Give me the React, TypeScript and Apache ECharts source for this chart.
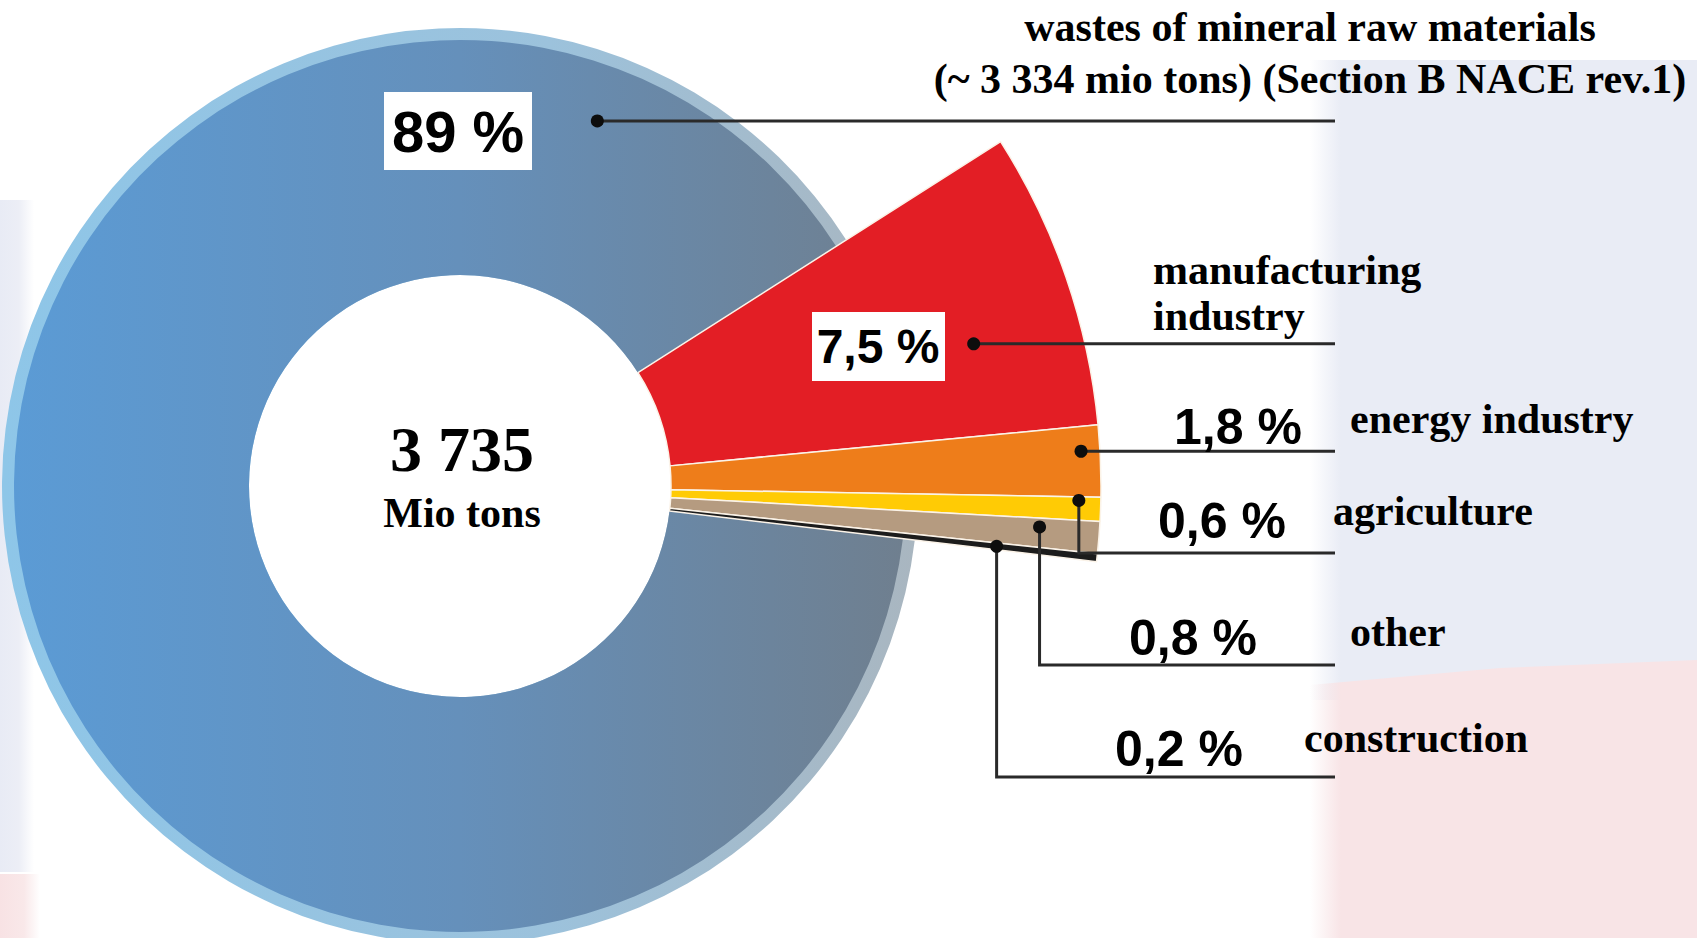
import React, { useEffect, useRef } from 'react';
import * as echarts from 'echarts';

// ---------- data ----------
const CATEGORIES = [
  'manufacturing industry',
  'energy industry',
  'agriculture',
  'other',
  'construction',
  'wastes of mineral raw materials',
];
const VALUES = [7.5, 1.8, 0.6, 0.8, 0.2, 89];
const PERCENT_LABELS = ['7,5 %', '1,8 %', '0,6 %', '0,8 %', '0,2 %', '89 %'];
const TITLE_LINES = ['wastes of mineral raw materials', '(~ 3 334 mio tons) (Section B NACE rev.1)'];
const MANUF_LINES = ['manufacturing', 'industry'];
const TOTAL_LABEL = '3 735';
const TOTAL_UNIT = 'Mio tons';

// ---------- style / layout ----------
const SLICE_COLORS = ['#e31e25', '#ee7d1a', '#ffcb05', '#b59b80', '#1c1c1c'];
const CX = 460;
const CY = 486;
const R_IN = 211;
const R_BLUE = 446;
const R_RIM = 458;
const R_SMALL = 641;
const START = 32.5;
const ANCHOR_FRAC = [0.63, 0.35, 0.15, 0.3, 0.5, 0.885];
const ANCHOR_R = [533, 622, 619, 581, 540, 390];
const ELBOW_Y: (number | null)[] = [null, null, 553, 665, 777, null];
const LINE_END_X = 1335;

const SERIF = '"Liberation Serif", "Times New Roman", serif';
const SANS = '"Liberation Sans", Arial, sans-serif';

function polar(angleDeg: number, r: number): [number, number] {
  const a = (angleDeg * Math.PI) / 180;
  return [CX + r * Math.cos(a), CY - r * Math.sin(a)];
}

function serifText(text: string, x: number, baseline: number, align: string, size = 42) {
  return {
    type: 'text',
    z: 100,
    x,
    y: baseline - 0.34 * size,
    style: {
      text,
      fill: '#000',
      fontFamily: SERIF,
      fontWeight: 'bold',
      fontSize: size,
      align,
      verticalAlign: 'middle',
      textAlign: align,
      textVerticalAlign: 'middle',
    },
  };
}

function sansText(text: string, x: number, y: number, align: string, size: number) {
  return {
    type: 'text',
    z: 100,
    x,
    y,
    style: {
      text,
      fill: '#000',
      fontFamily: SANS,
      fontWeight: 'bold',
      fontSize: size,
      align,
      verticalAlign: 'middle',
      textAlign: align,
      textVerticalAlign: 'middle',
    },
  };
}

export default function App() {
  const ref = useRef<HTMLDivElement>(null);

  useEffect(() => {
    if (!ref.current) return;
    const chart = echarts.init(ref.current, null, { renderer: 'svg' });

    const sum = VALUES.reduce((a, b) => a + b, 0);
    let acc = START;
    const spans = VALUES.map((v) => {
      const s = acc;
      const e = acc - (v / sum) * 360;
      acc = e;
      return [s, e];
    });
    const anchors = spans.map(([s, e], i) => polar(s + (e - s) * ANCHOR_FRAC[i], ANCHOR_R[i]));

    const transparent = 'rgba(0,0,0,0)';
    const blueFill = new echarts.graphic.LinearGradient(0, 0, 1, 0, [
      { offset: 0, color: '#5b9bd5' },
      { offset: 0.5, color: '#6590bb' },
      { offset: 1, color: '#6f7f8f' },
    ]);
    const rimFill = new echarts.graphic.LinearGradient(0, 0, 1, 0, [
      { offset: 0, color: '#8ec6e8' },
      { offset: 0.6, color: '#9cc2dc' },
      { offset: 1, color: '#a9b6c0' },
    ]);

    const baseSeries = {
      type: 'pie',
      center: [CX, CY],
      startAngle: START,
      clockwise: true,
      silent: true,
      avoidLabelOverlap: false,
      label: { show: false },
      labelLine: { show: false },
      emphasis: { disabled: true },
    };

    const lines: any[] = [];
    const dots: any[] = [];
    anchors.forEach(([x, y], i) => {
      const ey = ELBOW_Y[i];
      const pts = ey == null ? [[x, y], [LINE_END_X, y]] : [[x, y], [x, ey], [LINE_END_X, ey]];
      lines.push({
        type: 'polyline',
        z: 100,
        shape: { points: pts },
        style: { stroke: '#2a2a2a', lineWidth: 3, fill: null },
      });
      dots.push({
        type: 'circle',
        z: 101,
        shape: { cx: x, cy: y, r: 6.5 },
        style: { fill: '#0d0d0d' },
      });
    });

    const graphics: any[] = [
      // background tints
      {
        type: 'rect',
        z: 0,
        shape: { x: 0, y: 200, width: 34, height: 672 },
        style: {
          fill: new echarts.graphic.LinearGradient(0, 0, 1, 0, [
            { offset: 0, color: '#e8ebf5' },
            { offset: 0.55, color: '#eceef6' },
            { offset: 1, color: 'rgba(236,238,246,0)' },
          ]),
        },
      },
      {
        type: 'rect',
        z: 0,
        shape: { x: 0, y: 874, width: 40, height: 64 },
        style: {
          fill: new echarts.graphic.LinearGradient(0, 0, 1, 0, [
            { offset: 0, color: '#f8e2e4' },
            { offset: 0.6, color: '#f9e8e9' },
            { offset: 1, color: 'rgba(249,232,233,0)' },
          ]),
        },
      },
      {
        type: 'rect',
        z: 0,
        shape: { x: 1310, y: 60, width: 387, height: 640 },
        style: {
          fill: new echarts.graphic.LinearGradient(0, 0, 1, 0, [
            { offset: 0, color: 'rgba(233,236,245,0)' },
            { offset: 0.08, color: '#e9ecf5' },
            { offset: 1, color: '#e9ecf5' },
          ]),
        },
      },
      {
        type: 'polygon',
        z: 0,
        shape: { points: [[1310, 685], [1500, 668], [1697, 660], [1697, 938], [1310, 938]] },
        style: {
          fill: new echarts.graphic.LinearGradient(0, 0, 1, 0, [
            { offset: 0, color: 'rgba(248,228,230,0)' },
            { offset: 0.08, color: '#f8e4e6' },
            { offset: 1, color: '#f8e4e6' },
          ]),
        },
      },
      ...lines,
      ...dots,
      // value boxes
      {
        type: 'rect',
        z: 99,
        shape: { x: 384, y: 92, width: 148, height: 78 },
        style: { fill: '#ffffff' },
      },
      {
        type: 'rect',
        z: 99,
        shape: { x: 812, y: 312, width: 133, height: 69 },
        style: { fill: '#ffffff' },
      },
      sansText(PERCENT_LABELS[5], 458, 131, 'center', 58),
      sansText(PERCENT_LABELS[0], 878, 346, 'center', 48),
      sansText(PERCENT_LABELS[1], 1174, 427, 'left', 50),
      sansText(PERCENT_LABELS[2], 1158, 521, 'left', 50),
      sansText(PERCENT_LABELS[3], 1129, 638, 'left', 50),
      sansText(PERCENT_LABELS[4], 1115, 749, 'left', 50),
      // category labels
      serifText(TITLE_LINES[0], 1310, 41, 'center'),
      serifText(TITLE_LINES[1], 1310, 93, 'center'),
      serifText(MANUF_LINES[0], 1153, 284, 'left'),
      serifText(MANUF_LINES[1], 1153, 330, 'left'),
      serifText(CATEGORIES[1], 1350, 433, 'left'),
      serifText(CATEGORIES[2], 1333, 525, 'left'),
      serifText(CATEGORIES[3], 1350, 646, 'left'),
      serifText(CATEGORIES[4], 1304, 752, 'left'),
      // centre total
      serifText(TOTAL_LABEL, 462, 471, 'center', 64),
      serifText(TOTAL_UNIT, 462, 527, 'center', 42),
    ];

    chart.setOption({
      animation: false,
      backgroundColor: '#ffffff',
      series: [
        {
          ...baseSeries,
          z: 1,
          radius: [R_IN, R_RIM],
          data: VALUES.map((v, i) => ({
            value: v,
            name: CATEGORIES[i],
            itemStyle: i === 5 ? { color: rimFill, borderWidth: 0 } : { color: transparent, borderWidth: 0 },
          })),
        },
        {
          ...baseSeries,
          z: 2,
          radius: [R_IN, R_BLUE],
          data: VALUES.map((v, i) => ({
            value: v,
            name: CATEGORIES[i],
            itemStyle: i === 5 ? { color: blueFill, borderWidth: 0 } : { color: transparent, borderWidth: 0 },
          })),
        },
        {
          ...baseSeries,
          z: 3,
          radius: [R_IN, R_SMALL],
          data: VALUES.map((v, i) => ({
            value: v,
            name: CATEGORIES[i],
            itemStyle:
              i === 5
                ? { color: transparent, borderWidth: 0 }
                : { color: SLICE_COLORS[i], borderColor: '#fbf3e8', borderWidth: 1.5 },
          })),
        },
      ],
      graphic: { elements: graphics },
    });

    return () => chart.dispose();
  }, []);

  return (
    <div
      ref={ref}
      style={{ position: 'fixed', left: 0, top: 0, width: 1697, height: 938 }}
    />
  );
}
